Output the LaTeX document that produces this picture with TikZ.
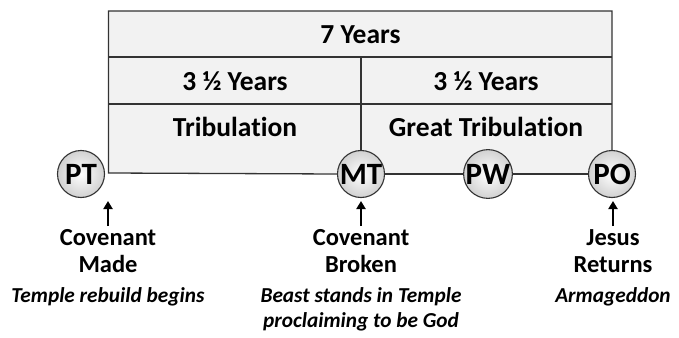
\documentclass[tikz,border=0pt]{standalone}
\usepackage{fontspec}
\setmainfont{Carlito}[Ligatures=NoCommon]
\usetikzlibrary{arrows.meta}
\begin{document}
\begin{tikzpicture}[x=1pt,y=-1pt,
  line/.style={draw=black!80, line width=1.3pt},
  circ/.style={circle, draw=black!80, line width=1.1pt, minimum size=47pt, inner sep=0pt, inner color=white, outer color=black!18, font=\fontsize{31}{31}\selectfont\bfseries},
  head/.style={font=\fontsize{27.5}{27.5}\selectfont\bfseries},
  lab/.style={font=\fontsize{24.5}{27}\selectfont\bfseries, align=center},
  sub/.style={font=\fontsize{21.3}{25.5}\selectfont\bfseries\itshape, align=center},
  arr/.style={-{Triangle[length=8pt,width=9pt]}, line width=2.4pt, black}]
\useasboundingbox (0,0) rectangle (679,337);
% box
\fill[black!5] (108.5,11) rectangle (612,173);
\coordinate (tl) at (108.5,11);
\coordinate (tr) at (612,11);
\coordinate (bl) at (108.5,173);
\coordinate (r1l) at (108.5,57);
\coordinate (r1r) at (612,57);
\coordinate (r2l) at (108.5,104);
\coordinate (r2r) at (612,104);
\coordinate (mtop) at (361,57);
% circles
\node[circ] (PT) at (81,174) {PT};
\node[circ] (MT) at (361,174) {MT};
\node[circ] (PW) at (488,174) {PW};
\node[circ] (PO) at (612,174) {PO};
\draw[line] (PO.north) -- (tr) -- (tl) -- (bl) -- (MT.west);
\draw[line] (r1l) -- (r1r);
\draw[line] (r2l) -- (r2r);
\draw[line] (mtop) -- (MT.north);
\draw[line] (MT.east) -- (PW.west);
\draw[line] (PW.east) -- (PO.west);
% header texts
\node[head] (y7) at (360.5,35) {7 Years};
\node[head] (y3a) at (235,81) {3 ½ Years};
\node[head] (y3b) at (486,81) {3 ½ Years};
\node[head] (trib) at (235,127) {Tribulation};
\node[head] (gtrib) at (486,127) {Great Tribulation};
% labels
\node[lab, anchor=north] (cm) at (108,226) {Covenant\\Made};
\node[sub, anchor=north] (cms) at (108,284) {Temple rebuild begins};
\node[lab, anchor=north] (cb) at (361,226) {Covenant\\Broken};
\node[sub, anchor=north] (cbs) at (361,284) {Beast stands in Temple\\proclaiming to be God};
\node[lab, anchor=north] (jr) at (613,226) {Jesus\\Returns};
\node[sub, anchor=north] (jrs) at (613,284) {Armageddon};
\draw[arr] (cm.north) -- (108,201);
\draw[arr] (cb.north) -- (361,201);
\draw[arr] (jr.north) -- (613,201);
\end{tikzpicture}
\end{document}
